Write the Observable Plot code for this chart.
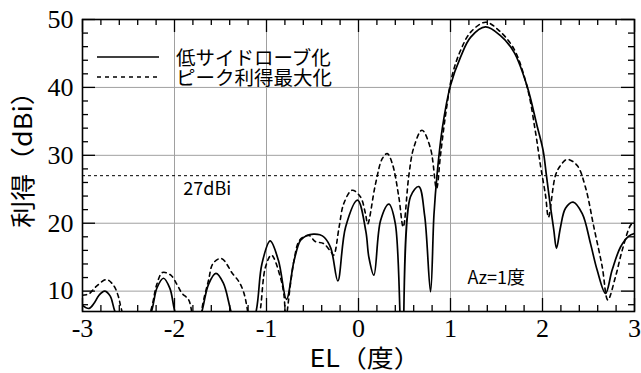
<!DOCTYPE html>
<html><head><meta charset="utf-8">
<script src="https://cdn.jsdelivr.net/npm/d3@7"></script>
<script src="https://cdn.jsdelivr.net/npm/@observablehq/plot@0.6"></script>
<style>
body{margin:0;background:#fff;}
#wrap{position:relative;width:641px;height:373px;}
#legend{position:absolute;left:97px;top:46.5px;font-family:"Noto Sans CJK JP",sans-serif;font-size:19.5px;line-height:20px;color:#000;}
#legend .row{display:flex;align-items:center;height:20.5px;}
#legend svg{margin-right:17px;}
</style></head><body><div id="wrap"></div>
<script>
// ---- data ----
const seriesNames = ["低サイドローブ化", "ピーク利得最大化"];
const elLow = [-3.00,-2.93,-2.87,-2.82,-2.76,-2.70,-2.65,-2.45,-2.25,-2.19,-2.12,-2.05,-2.00,-1.85,-1.70,-1.63,-1.55,-1.47,-1.39,-1.25,-1.11,-1.05,-0.96,-0.87,-0.783,-0.70,-0.63,-0.56,-0.49,-0.42,-0.37,-0.30,-0.225,-0.14,-0.01,0.08,0.112,0.167,0.24,0.33,0.40,0.475,0.565,0.656,0.72,0.783,0.82,0.855,0.91,1.00,1.11,1.22,1.38,1.54,1.69,1.83,1.94,2.007,2.043,2.087,2.123,2.152,2.196,2.25,2.333,2.432,2.522,2.594,2.685,2.757,2.848,2.938,3.00];
const gainLow = [7.9,7.45,8.3,9.4,10.0,9.3,7.1,0,7.0,10.5,11.9,10.4,7.2,0,7.1,11.0,12.6,11.2,7.2,0,7.2,14.0,17.4,14.5,8.8,14.5,17.5,18.2,18.4,18.3,17.9,16.3,11.5,19.45,23.4,18.8,15.05,12.35,20.4,22.8,19.95,0,23.9,25.4,21.0,9.9,21.2,27.3,33.9,40.3,44.5,47.4,48.9,47.65,45.2,40.3,34.4,30.7,27.0,22.4,19.0,16.3,19.45,22.2,23.1,21.4,17.0,13.1,9.66,13.1,16.5,18.1,18.5];
const elPeak = [-3.00,-2.93,-2.85,-2.74,-2.66,-2.61,-2.58,-2.42,-2.25,-2.19,-2.13,-2.04,-1.97,-1.92,-1.85,-1.82,-1.76,-1.70,-1.63,-1.58,-1.49,-1.37,-1.30,-1.25,-1.21,-1.14,-1.065,-1.01,-0.946,-0.85,-0.81,-0.79,-0.74,-0.70,-0.64,-0.54,-0.47,-0.38,-0.30,-0.27,-0.21,-0.16,-0.07,0.02,0.076,0.10,0.185,0.258,0.312,0.367,0.438,0.486,0.547,0.60,0.69,0.783,0.848,0.891,0.946,1.018,1.109,1.217,1.38,1.525,1.688,1.834,1.924,1.978,2.033,2.065,2.141,2.196,2.268,2.377,2.467,2.558,2.649,2.71,2.793,2.866,2.957,3.00];
const gainPeak = [9.4,9.6,10.7,11.7,10.8,9.2,7.5,0,7.5,11.1,12.75,12.35,10.9,9.7,8.8,7.5,0,7.5,11.6,14.1,14.8,12.6,11.4,9.9,7.45,0,7.45,13.6,15.3,12.1,9.4,6.0,11.0,14.56,17.5,18.2,17.3,17.0,15.8,15.3,19.5,22.9,24.85,23.9,21.4,19.9,25.8,29.5,30.25,28.8,23.9,19.45,27.0,31.1,33.7,31.0,25.1,30.0,35.9,41.76,45.44,48.1,49.6,48.4,45.7,40.0,33.4,28.5,24.1,20.9,27.06,28.5,29.4,28.5,25.3,19.45,13.6,8.7,12.1,16.0,19.7,20.2];
const xTickLabels = [-3,-2,-1,0,1,2,3];
const yTickLabels = [10,20,30,40,50];
const refLevel = [27];
const noteTexts = ["27dBi", "Az=1度"];
const axisTitles = ["EL（度）", "利得（dBi）"];

// ---- layout ----
const W = 641, H = 373;
const mL = 82, mR = 7, mT = 19, mB = 62;
const xDom = [-3, 3], yDom = [7, 50];
const pxX = (W - mL - mR) / (xDom[1] - xDom[0]);
const pxY = (H - mT - mB) / (yDom[1] - yDom[0]);
const xMinor = d3.range(-3, 3.001, 0.2).map(v => +v.toFixed(1)).filter(v => !xTickLabels.includes(v));
const yMinor = d3.range(8, 50, 2).filter(v => v % 10 !== 0);
const yMajor = yTickLabels;
const major = 13, minor = 6;

const low = elLow.map((x, i) => ({x, y: gainLow[i]}));
const peak = elPeak.map((x, i) => ({x, y: gainPeak[i]}));

const notes = [
  {t: noteTexts[0], x: -1.905, y: 25.0},
  {t: noteTexts[1], x: 1.185, y: 11.9}
];

const sansJP = "Noto Sans CJK JP";
const serif = "'Liberation Serif', serif";
const tickStyle = {stroke: "black", strokeWidth: 1.3};
const chart = Plot.plot({
  width: W, height: H,
  marginLeft: mL, marginRight: mR, marginTop: mT, marginBottom: mB,
  x: {domain: xDom},
  y: {domain: yDom},
  style: {background: "white", fontFamily: serif},
  marks: [
    Plot.gridX([-2,-1,0,1,2], {stroke: "#a0a0a0", strokeOpacity: 1, strokeWidth: 1}),
    Plot.gridY([10,20,30,40], {stroke: "#a0a0a0", strokeOpacity: 1, strokeWidth: 1}),
    Plot.ruleY(refLevel, {stroke: "black", strokeWidth: 1, strokeDasharray: "3 3"}),
    // inward ticks
    Plot.ruleX(xTickLabels, {x: d => d, y1: yDom[0], y2: yDom[0] + major / pxY, ...tickStyle}),
    Plot.ruleX(xTickLabels, {x: d => d, y1: yDom[1], y2: yDom[1] - major / pxY, ...tickStyle}),
    Plot.ruleX(xMinor, {x: d => d, y1: yDom[0], y2: yDom[0] + minor / pxY, ...tickStyle}),
    Plot.ruleX(xMinor, {x: d => d, y1: yDom[1], y2: yDom[1] - minor / pxY, ...tickStyle}),
    Plot.ruleY(yMajor, {y: d => d, x1: xDom[0], x2: xDom[0] + major / pxX, ...tickStyle}),
    Plot.ruleY(yMajor, {y: d => d, x1: xDom[1], x2: xDom[1] - major / pxX, ...tickStyle}),
    Plot.ruleY(yMinor, {y: d => d, x1: xDom[0], x2: xDom[0] + minor / pxX, ...tickStyle}),
    Plot.ruleY(yMinor, {y: d => d, x1: xDom[1], x2: xDom[1] - minor / pxX, ...tickStyle}),
    Plot.line(peak, {x: "x", y: "y", curve: "catmull-rom", stroke: "black", strokeWidth: 1.6, strokeDasharray: "4 4", clip: true}),
    Plot.line(low, {x: "x", y: "y", curve: "catmull-rom", stroke: "black", strokeWidth: 1.7, clip: true}),
    Plot.text(notes, {x: "x", y: "y", text: "t", textAnchor: "start", fontSize: 18, fontFamily: sansJP, fill: "black"}),
    Plot.frame({stroke: "black", strokeWidth: 1.6}),
    Plot.axisX(xTickLabels, {anchor: "bottom", tickSize: 0, tickPadding: 7, fontSize: 26, fontFamily: serif, tickFormat: d => String(d), label: null}),
    Plot.axisY(yTickLabels, {anchor: "left", tickSize: 0, tickPadding: 9, fontSize: 26, fontFamily: serif, tickFormat: d => String(d), label: null})
  ]
});
const wrap = document.getElementById("wrap");
wrap.appendChild(chart);

// axis titles (the reference sets them in a wide face: stretched along the baseline)
const NS = "http://www.w3.org/2000/svg";
function title(text, transform, size) {
  const t = document.createElementNS(NS, "text");
  t.textContent = text;
  t.setAttribute("transform", transform);
  t.setAttribute("text-anchor", "middle");
  t.setAttribute("dominant-baseline", "central");
  t.setAttribute("font-family", sansJP);
  t.setAttribute("font-size", size);
  t.setAttribute("fill", "black");
  chart.appendChild(t);
}
const frameCx = (mL + W - mR) / 2, frameCy = (mT + H - mB) / 2;
title(axisTitles[0], `translate(${frameCx + 7},${H - mB + 45}) scale(1.12,1)`, 24);
title(axisTitles[1], `translate(21,${frameCy - 12}) rotate(-90) scale(1.1,1)`, 24.5);

const lg = document.createElement("div");
lg.id = "legend";
lg.innerHTML = `
<div class="row"><svg width="62" height="4"><line x1="0" x2="62" y1="2" y2="2" stroke="black" stroke-width="1.7"/></svg><span>${seriesNames[0]}</span></div>
<div class="row"><svg width="62" height="4"><line x1="0" x2="62" y1="2" y2="2" stroke="black" stroke-width="1.6" stroke-dasharray="4 4"/></svg><span>${seriesNames[1]}</span></div>`;
wrap.appendChild(lg);
</script>
</body></html>
